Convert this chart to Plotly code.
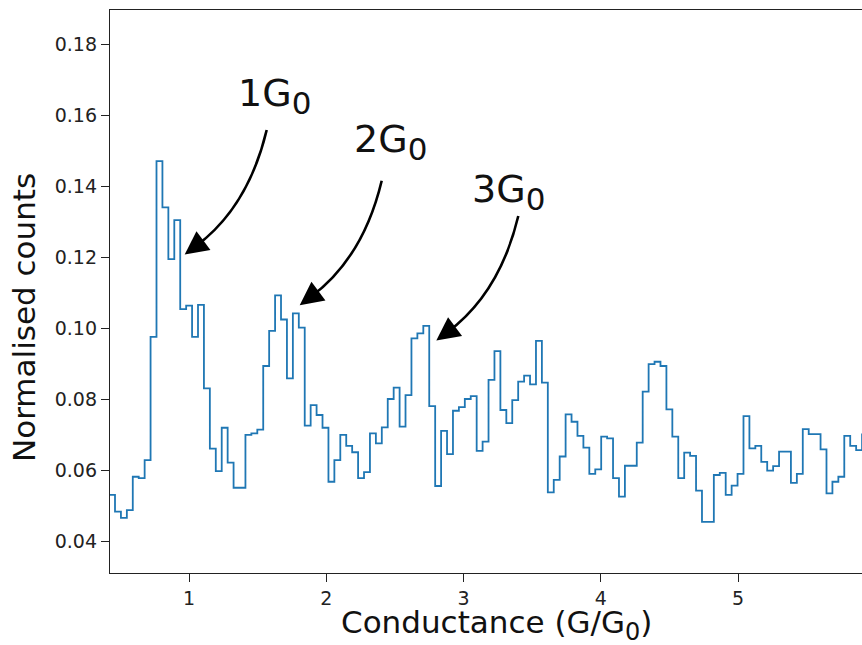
import plotly.graph_objects as go

# ---- data ----
bin_start = 0.4176      # left edge of first bin (G/G0)
bin_width = 0.0432      # bin width (G/G0)
counts = [
    0.0530, 0.0483, 0.0465, 0.0487, 0.0581, 0.0577, 0.0628, 0.0975, 0.1470, 0.1340,
    0.1194, 0.1304, 0.1053, 0.1063, 0.0975, 0.1065, 0.0830, 0.0660, 0.0597, 0.0719,
    0.0621, 0.0550, 0.0550, 0.0699, 0.0703, 0.0714, 0.0893, 0.0992, 0.1092, 0.1024,
    0.0858, 0.1041, 0.1001, 0.0725, 0.0783, 0.0755, 0.0719, 0.0567, 0.0628, 0.0699,
    0.0668, 0.0650, 0.0577, 0.0594, 0.0703, 0.0675, 0.0720, 0.0800, 0.0832, 0.0722,
    0.0811, 0.0971, 0.0985, 0.1006, 0.0780, 0.0555, 0.0710, 0.0645, 0.0767, 0.0777,
    0.0800, 0.0808, 0.0654, 0.0680, 0.0854, 0.0935, 0.0769, 0.0732, 0.0797, 0.0849,
    0.0866, 0.0841, 0.0964, 0.0846, 0.0537, 0.0572, 0.0638, 0.0757, 0.0736, 0.0696,
    0.0663, 0.0589, 0.0602, 0.0694, 0.0689, 0.0577, 0.0525, 0.0612, 0.0612, 0.0677,
    0.0821, 0.0898, 0.0905, 0.0893, 0.0771, 0.0694, 0.0577, 0.0649, 0.0640, 0.0542,
    0.0454, 0.0454, 0.0586, 0.0592, 0.0530, 0.0556, 0.0589, 0.0752, 0.0661, 0.0668,
    0.0623, 0.0598, 0.0611, 0.0652, 0.0652, 0.0564, 0.0589, 0.0715, 0.0701, 0.0701,
    0.0658, 0.0534, 0.0567, 0.0581, 0.0696, 0.0668, 0.0656, 0.0700,
]
x_ticks = [1, 2, 3, 4, 5]
y_ticks = [0.04, 0.06, 0.08, 0.10, 0.12, 0.14, 0.16, 0.18]
peak_names = ["1", "2", "3"]

# ---- layout constants ----
W, H = 862, 645
ML, MR, MT, MB = 110, 0, 10, 72
X_RANGE = [0.4244, 5.9035]
Y_RANGE = [0.03099, 0.18958]
PW, PH = W - ML - MR, H - MT - MB


def px2x(px):
    return X_RANGE[0] + (px - ML) / PW * (X_RANGE[1] - X_RANGE[0])


def px2y(py):
    return Y_RANGE[0] + (MT + PH - py) / PH * (Y_RANGE[1] - Y_RANGE[0])


edges = [bin_start + i * bin_width for i in range(len(counts) + 1)]
xs = edges
ys = counts + [counts[-1]]

fig = go.Figure()
fig.add_trace(go.Scatter(
    x=xs, y=ys, mode="lines", line=dict(color="#1f77b4", width=1.8, shape="hv"),
    hoverinfo="skip", showlegend=False,
))

# ---- curved arrows + labels (pixel layout) ----
TXT = "#111111"
arrow_tails = [(266.7, 130.0), (381.7, 180.7), (518.3, 216.0)]
label_pos = [(235.5, 96.0), (352.0, 142.0), (469.7, 191.5)]
delta = (-82.0, 124.5)
shapes = []
annotations = []
for (tx, ty), (lx, ly), nm in zip(arrow_tails, label_pos, peak_names):
    px_, py_ = tx + delta[0], ty + delta[1]
    mx, my = (tx + px_) / 2, (ty + py_) / 2
    L = (delta[0] ** 2 + delta[1] ** 2) ** 0.5
    ux, uy = delta[0] / L, delta[1] / L
    nx, ny = -uy, ux  # perpendicular
    if nx < 0:
        nx, ny = -nx, -ny
    off = 27.0
    cx, cy = mx + off * nx, my + off * ny
    tvx, tvy = px_ - cx, py_ - cy
    tl = (tvx ** 2 + tvy ** 2) ** 0.5
    tvx, tvy = tvx / tl, tvy / tl
    bx, by = px_ - 14 * tvx, py_ - 14 * tvy
    shapes.append(dict(
        type="path", xref="x", yref="y",
        path=f"M {px2x(tx)},{px2y(ty)} Q {px2x(cx)},{px2y(cy)} {px2x(bx)},{px2y(by)}",
        line=dict(color="black", width=2.6),
    ))
    annotations.append(dict(
        x=px2x(px_), y=px2y(py_), xref="x", yref="y", text="",
        showarrow=True, arrowhead=2, arrowsize=1.8, arrowwidth=2.6, arrowcolor="black",
        ax=20 * -tvx, ay=20 * -tvy, axref="pixel", ayref="pixel", standoff=0,
    ))
    annotations.append(dict(
        x=px2x(lx), y=px2y(ly), xref="x", yref="y",
        text=f"{nm}G<sub><span style='font-size:31px'>0</span></sub>",
        showarrow=False, xanchor="left", yanchor="middle",
        font=dict(family="DejaVu Sans", size=38, color=TXT),
    ))

# axis titles as annotations for exact placement
annotations.append(dict(
    x=(24 - ML) / PW, y=(MT + PH - 318) / PH, xref="paper", yref="paper",
    text="Normalised counts", textangle=-90, showarrow=False,
    xanchor="center", yanchor="middle",
    font=dict(family="DejaVu Sans", size=31, color=TXT),
))
annotations.append(dict(
    x=(496 - ML) / PW, y=(MT + PH - 625) / PH, xref="paper", yref="paper",
    text="Conductance (G/G<sub><span style='font-size:24px'>0</span></sub>)", showarrow=False,
    xanchor="center", yanchor="middle",
    font=dict(family="DejaVu Sans", size=31, color=TXT),
))

axis_common = dict(
    showgrid=False, zeroline=False, showline=True, linecolor="#222222", linewidth=1.3,
    ticks="outside", ticklen=8, tickwidth=1.3, tickcolor="#222222",
    tickfont=dict(family="DejaVu Sans", size=19, color="#222222"),
)

fig.update_layout(
    width=W, height=H, autosize=False,
    margin=dict(l=ML, r=MR, t=MT, b=MB, pad=0),
    paper_bgcolor="white", plot_bgcolor="white",
    xaxis=dict(range=X_RANGE, tickvals=x_ticks, ticktext=[str(v) for v in x_ticks],
               mirror=True, **axis_common),
    yaxis=dict(range=Y_RANGE, tickvals=y_ticks, ticktext=[f"{v:.2f}" for v in y_ticks],
               mirror=False, **axis_common),
    shapes=shapes, annotations=annotations, showlegend=False,
)

fig.write_html("out.html")
